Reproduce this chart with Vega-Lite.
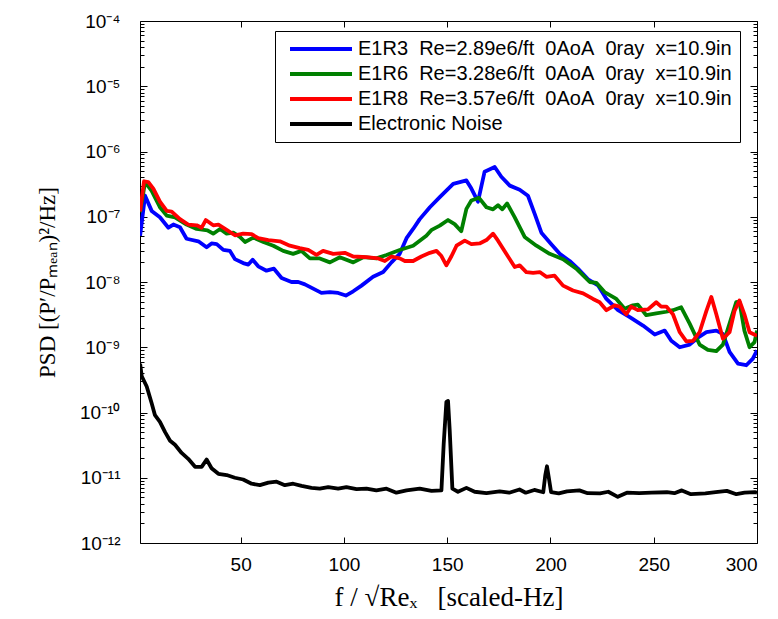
{
  "$schema": "https://vega.github.io/schema/vega-lite/v6.json",
  "width": 617,
  "height": 522,
  "autosize": {"type": "none"},
  "padding": {"left": 140, "top": 21, "right": 21, "bottom": 76},
  "background": "white",
  "config": {
    "view": {"stroke": "black", "strokeWidth": 1, "fill": null},
    "font": "Liberation Sans"
  },
  "datasets": {
    "psd": [
      {"s": "E1R3", "f": 1.3, "v": 5.1e-8}, {"s": "E1R3", "f": 3.7, "v": 2.1e-7}, {"s": "E1R3", "f": 6.9, "v": 1.23e-7}, {"s": "E1R3", "f": 10.9, "v": 9.8e-8}, {"s": "E1R3", "f": 15, "v": 6.8e-8}, {"s": "E1R3", "f": 17.4, "v": 7.6e-8}, {"s": "E1R3", "f": 20.6, "v": 6.9e-8}, {"s": "E1R3", "f": 23.8, "v": 4.6e-8}, {"s": "E1R3", "f": 29.5, "v": 4.2e-8}, {"s": "E1R3", "f": 33.5, "v": 3.4e-8}, {"s": "E1R3", "f": 35.9, "v": 3.9e-8}, {"s": "E1R3", "f": 38.4, "v": 3.8e-8}, {"s": "E1R3", "f": 41.6, "v": 3.1e-8}, {"s": "E1R3", "f": 44.8, "v": 3.0e-8}, {"s": "E1R3", "f": 47.2, "v": 2.24e-8}, {"s": "E1R3", "f": 51.2, "v": 1.95e-8}, {"s": "E1R3", "f": 53.7, "v": 1.85e-8}, {"s": "E1R3", "f": 55.8, "v": 2.2e-8}, {"s": "E1R3", "f": 58.5, "v": 1.74e-8}, {"s": "E1R3", "f": 62.5, "v": 1.49e-8}, {"s": "E1R3", "f": 66.1, "v": 1.6e-8}, {"s": "E1R3", "f": 69.8, "v": 1.15e-8}, {"s": "E1R3", "f": 74.6, "v": 1.0e-8}, {"s": "E1R3", "f": 77.9, "v": 1.0e-8}, {"s": "E1R3", "f": 81.1, "v": 9.2e-9}, {"s": "E1R3", "f": 85.1, "v": 7.9e-9}, {"s": "E1R3", "f": 89.1, "v": 6.8e-9}, {"s": "E1R3", "f": 93.2, "v": 7.0e-9}, {"s": "E1R3", "f": 97.2, "v": 6.8e-9}, {"s": "E1R3", "f": 100.9, "v": 6.2e-9}, {"s": "E1R3", "f": 104.5, "v": 7.2e-9}, {"s": "E1R3", "f": 108.5, "v": 8.8e-9}, {"s": "E1R3", "f": 114.1, "v": 1.2e-8}, {"s": "E1R3", "f": 119, "v": 1.42e-8}, {"s": "E1R3", "f": 123, "v": 2.0e-8}, {"s": "E1R3", "f": 127, "v": 2.7e-8}, {"s": "E1R3", "f": 130.3, "v": 4.7e-8}, {"s": "E1R3", "f": 133.5, "v": 6.5e-8}, {"s": "E1R3", "f": 136.7, "v": 9.2e-8}, {"s": "E1R3", "f": 141.6, "v": 1.4e-7}, {"s": "E1R3", "f": 146.4, "v": 2.0e-7}, {"s": "E1R3", "f": 152.9, "v": 3.2e-7}, {"s": "E1R3", "f": 159.3, "v": 3.6e-7}, {"s": "E1R3", "f": 161.7, "v": 2.7e-7}, {"s": "E1R3", "f": 164.9, "v": 1.7e-7}, {"s": "E1R3", "f": 168.1, "v": 4.9e-7}, {"s": "E1R3", "f": 173, "v": 5.8e-7}, {"s": "E1R3", "f": 176.2, "v": 4.1e-7}, {"s": "E1R3", "f": 180.3, "v": 3.0e-7}, {"s": "E1R3", "f": 185.1, "v": 2.6e-7}, {"s": "E1R3", "f": 189.1, "v": 2.1e-7}, {"s": "E1R3", "f": 192.4, "v": 1.1e-7}, {"s": "E1R3", "f": 195.6, "v": 5.7e-8}, {"s": "E1R3", "f": 200.4, "v": 3.8e-8}, {"s": "E1R3", "f": 204.5, "v": 2.7e-8}, {"s": "E1R3", "f": 209.3, "v": 2.1e-8}, {"s": "E1R3", "f": 213.3, "v": 1.6e-8}, {"s": "E1R3", "f": 218.2, "v": 1.1e-8}, {"s": "E1R3", "f": 223, "v": 8.9e-9}, {"s": "E1R3", "f": 227.1, "v": 5.5e-9}, {"s": "E1R3", "f": 232.7, "v": 3.7e-9}, {"s": "E1R3", "f": 238.4, "v": 2.9e-9}, {"s": "E1R3", "f": 244.8, "v": 2.15e-9}, {"s": "E1R3", "f": 250.5, "v": 1.57e-9}, {"s": "E1R3", "f": 255.3, "v": 1.8e-9}, {"s": "E1R3", "f": 258.5, "v": 1.26e-9}, {"s": "E1R3", "f": 262.6, "v": 1.0e-9}, {"s": "E1R3", "f": 267.4, "v": 1.1e-9}, {"s": "E1R3", "f": 271.4, "v": 1.4e-9}, {"s": "E1R3", "f": 275.5, "v": 1.7e-9}, {"s": "E1R3", "f": 280.3, "v": 1.8e-9}, {"s": "E1R3", "f": 283.5, "v": 1.6e-9}, {"s": "E1R3", "f": 286.7, "v": 8.5e-10}, {"s": "E1R3", "f": 290.8, "v": 5.6e-10}, {"s": "E1R3", "f": 294.8, "v": 5.3e-10}, {"s": "E1R3", "f": 298, "v": 6.7e-10}, {"s": "E1R3", "f": 300, "v": 9e-10},

      {"s": "E1R6", "f": 1.3, "v": 1.17e-7}, {"s": "E1R6", "f": 3.7, "v": 3.4e-7}, {"s": "E1R6", "f": 6.9, "v": 2.5e-7}, {"s": "E1R6", "f": 10.9, "v": 1.4e-7}, {"s": "E1R6", "f": 14.2, "v": 1.04e-7}, {"s": "E1R6", "f": 18.2, "v": 9.8e-8}, {"s": "E1R6", "f": 23.8, "v": 7.6e-8}, {"s": "E1R6", "f": 28.7, "v": 6.5e-8}, {"s": "E1R6", "f": 33.9, "v": 6.2e-8}, {"s": "E1R6", "f": 36.7, "v": 5.5e-8}, {"s": "E1R6", "f": 40, "v": 6.5e-8}, {"s": "E1R6", "f": 43.2, "v": 5.5e-8}, {"s": "E1R6", "f": 46.4, "v": 5.7e-8}, {"s": "E1R6", "f": 49.6, "v": 4.9e-8}, {"s": "E1R6", "f": 52.1, "v": 4.1e-8}, {"s": "E1R6", "f": 56.1, "v": 4.8e-8}, {"s": "E1R6", "f": 61, "v": 4.1e-8}, {"s": "E1R6", "f": 65.8, "v": 3.6e-8}, {"s": "E1R6", "f": 70.6, "v": 3.0e-8}, {"s": "E1R6", "f": 75.4, "v": 2.7e-8}, {"s": "E1R6", "f": 79.4, "v": 3.0e-8}, {"s": "E1R6", "f": 83.5, "v": 2.3e-8}, {"s": "E1R6", "f": 88.3, "v": 2.3e-8}, {"s": "E1R6", "f": 93.2, "v": 2.0e-8}, {"s": "E1R6", "f": 98, "v": 2.4e-8}, {"s": "E1R6", "f": 104.5, "v": 2.0e-8}, {"s": "E1R6", "f": 109.3, "v": 2.4e-8}, {"s": "E1R6", "f": 115.7, "v": 2.3e-8}, {"s": "E1R6", "f": 120.6, "v": 2.6e-8}, {"s": "E1R6", "f": 127, "v": 3.1e-8}, {"s": "E1R6", "f": 133.5, "v": 3.6e-8}, {"s": "E1R6", "f": 139.9, "v": 5.1e-8}, {"s": "E1R6", "f": 142.5, "v": 6.3e-8}, {"s": "E1R6", "f": 146.4, "v": 7.3e-8}, {"s": "E1R6", "f": 150.4, "v": 8.9e-8}, {"s": "E1R6", "f": 153.6, "v": 7.7e-8}, {"s": "E1R6", "f": 156.8, "v": 6.0e-8}, {"s": "E1R6", "f": 159.3, "v": 1.32e-7}, {"s": "E1R6", "f": 161.7, "v": 1.77e-7}, {"s": "E1R6", "f": 165.4, "v": 1.95e-7}, {"s": "E1R6", "f": 169, "v": 1.4e-7}, {"s": "E1R6", "f": 172.2, "v": 1.3e-7}, {"s": "E1R6", "f": 174.6, "v": 1.5e-7}, {"s": "E1R6", "f": 176.7, "v": 1.3e-7}, {"s": "E1R6", "f": 179, "v": 1.6e-7}, {"s": "E1R6", "f": 182.7, "v": 9.8e-8}, {"s": "E1R6", "f": 187.5, "v": 4.9e-8}, {"s": "E1R6", "f": 193.2, "v": 3.6e-8}, {"s": "E1R6", "f": 199.6, "v": 2.7e-8}, {"s": "E1R6", "f": 206.1, "v": 2.24e-8}, {"s": "E1R6", "f": 212.5, "v": 1.6e-8}, {"s": "E1R6", "f": 219, "v": 1.0e-8}, {"s": "E1R6", "f": 222.2, "v": 9.7e-9}, {"s": "E1R6", "f": 226.2, "v": 7.0e-9}, {"s": "E1R6", "f": 231.9, "v": 5.5e-9}, {"s": "E1R6", "f": 235.9, "v": 3.9e-9}, {"s": "E1R6", "f": 239.9, "v": 4.4e-9}, {"s": "E1R6", "f": 242.3, "v": 4.5e-9}, {"s": "E1R6", "f": 246.4, "v": 3.1e-9}, {"s": "E1R6", "f": 251.2, "v": 3.3e-9}, {"s": "E1R6", "f": 256.1, "v": 3.5e-9}, {"s": "E1R6", "f": 259.3, "v": 3.7e-9}, {"s": "E1R6", "f": 263.3, "v": 4.1e-9}, {"s": "E1R6", "f": 267.4, "v": 2.3e-9}, {"s": "E1R6", "f": 272.2, "v": 1.1e-9}, {"s": "E1R6", "f": 276.2, "v": 9.1e-10}, {"s": "E1R6", "f": 280.3, "v": 8.7e-10}, {"s": "E1R6", "f": 283.5, "v": 1.1e-9}, {"s": "E1R6", "f": 286.7, "v": 2.3e-9}, {"s": "E1R6", "f": 289.9, "v": 4.9e-9}, {"s": "E1R6", "f": 291.5, "v": 5.0e-9}, {"s": "E1R6", "f": 293.9, "v": 1.8e-9}, {"s": "E1R6", "f": 296.4, "v": 1.0e-9}, {"s": "E1R6", "f": 298.8, "v": 1.2e-9}, {"s": "E1R6", "f": 300, "v": 1.8e-9},

      {"s": "E1R8", "f": 1.3, "v": 1.2e-7}, {"s": "E1R8", "f": 3.2, "v": 3.5e-7}, {"s": "E1R8", "f": 5.3, "v": 3.4e-7}, {"s": "E1R8", "f": 7.7, "v": 2.7e-7}, {"s": "E1R8", "f": 10.9, "v": 1.7e-7}, {"s": "E1R8", "f": 14.2, "v": 1.23e-7}, {"s": "E1R8", "f": 16.6, "v": 1.2e-7}, {"s": "E1R8", "f": 20.6, "v": 9.2e-8}, {"s": "E1R8", "f": 24.6, "v": 7.6e-8}, {"s": "E1R8", "f": 28.7, "v": 7.4e-8}, {"s": "E1R8", "f": 31.1, "v": 6.8e-8}, {"s": "E1R8", "f": 33.1, "v": 8.9e-8}, {"s": "E1R8", "f": 36.7, "v": 7.4e-8}, {"s": "E1R8", "f": 39.2, "v": 7.6e-8}, {"s": "E1R8", "f": 43.2, "v": 6.3e-8}, {"s": "E1R8", "f": 47.2, "v": 5.2e-8}, {"s": "E1R8", "f": 51.2, "v": 5.5e-8}, {"s": "E1R8", "f": 55.3, "v": 5.4e-8}, {"s": "E1R8", "f": 58.5, "v": 4.7e-8}, {"s": "E1R8", "f": 63.4, "v": 4.4e-8}, {"s": "E1R8", "f": 69, "v": 4.2e-8}, {"s": "E1R8", "f": 73.8, "v": 3.6e-8}, {"s": "E1R8", "f": 78.6, "v": 3.3e-8}, {"s": "E1R8", "f": 82.7, "v": 3.1e-8}, {"s": "E1R8", "f": 86.7, "v": 2.6e-8}, {"s": "E1R8", "f": 89.9, "v": 3.0e-8}, {"s": "E1R8", "f": 94.8, "v": 2.7e-8}, {"s": "E1R8", "f": 100.4, "v": 2.8e-8}, {"s": "E1R8", "f": 104.5, "v": 2.46e-8}, {"s": "E1R8", "f": 110.9, "v": 2.4e-8}, {"s": "E1R8", "f": 116.6, "v": 2.3e-8}, {"s": "E1R8", "f": 119.8, "v": 2.1e-8}, {"s": "E1R8", "f": 123, "v": 2.46e-8}, {"s": "E1R8", "f": 127, "v": 2.3e-8}, {"s": "E1R8", "f": 129.5, "v": 2.1e-8}, {"s": "E1R8", "f": 133.5, "v": 2.1e-8}, {"s": "E1R8", "f": 137.5, "v": 2.46e-8}, {"s": "E1R8", "f": 141.6, "v": 2.8e-8}, {"s": "E1R8", "f": 144.8, "v": 3.0e-8}, {"s": "E1R8", "f": 147.2, "v": 2.5e-8}, {"s": "E1R8", "f": 149.6, "v": 1.8e-8}, {"s": "E1R8", "f": 152.1, "v": 2.5e-8}, {"s": "E1R8", "f": 154.5, "v": 3.6e-8}, {"s": "E1R8", "f": 158.5, "v": 4.3e-8}, {"s": "E1R8", "f": 161.7, "v": 3.8e-8}, {"s": "E1R8", "f": 165.7, "v": 3.9e-8}, {"s": "E1R8", "f": 169, "v": 4.4e-8}, {"s": "E1R8", "f": 172.2, "v": 5.5e-8}, {"s": "E1R8", "f": 174.6, "v": 4.3e-8}, {"s": "E1R8", "f": 178.6, "v": 2.7e-8}, {"s": "E1R8", "f": 182.7, "v": 1.7e-8}, {"s": "E1R8", "f": 185.1, "v": 1.8e-8}, {"s": "E1R8", "f": 188.3, "v": 1.42e-8}, {"s": "E1R8", "f": 191.6, "v": 1.38e-8}, {"s": "E1R8", "f": 194.8, "v": 1.42e-8}, {"s": "E1R8", "f": 198, "v": 1.2e-8}, {"s": "E1R8", "f": 202, "v": 1.25e-8}, {"s": "E1R8", "f": 206.1, "v": 8.8e-9}, {"s": "E1R8", "f": 210.9, "v": 7.4e-9}, {"s": "E1R8", "f": 215.8, "v": 6.7e-9}, {"s": "E1R8", "f": 220.6, "v": 5.5e-9}, {"s": "E1R8", "f": 223.8, "v": 4.9e-9}, {"s": "E1R8", "f": 227.1, "v": 3.7e-9}, {"s": "E1R8", "f": 231.1, "v": 4.4e-9}, {"s": "E1R8", "f": 233.5, "v": 4.2e-9}, {"s": "E1R8", "f": 236.7, "v": 3.2e-9}, {"s": "E1R8", "f": 239.1, "v": 4.2e-9}, {"s": "E1R8", "f": 242.3, "v": 3.7e-9}, {"s": "E1R8", "f": 247.2, "v": 3.8e-9}, {"s": "E1R8", "f": 251.2, "v": 4.9e-9}, {"s": "E1R8", "f": 253.6, "v": 4.2e-9}, {"s": "E1R8", "f": 256.1, "v": 4.2e-9}, {"s": "E1R8", "f": 259.3, "v": 3.2e-9}, {"s": "E1R8", "f": 262.6, "v": 1.7e-9}, {"s": "E1R8", "f": 265.8, "v": 1.23e-9}, {"s": "E1R8", "f": 269, "v": 1.25e-9}, {"s": "E1R8", "f": 272.2, "v": 1.7e-9}, {"s": "E1R8", "f": 275.5, "v": 3.6e-9}, {"s": "E1R8", "f": 277.9, "v": 5.9e-9}, {"s": "E1R8", "f": 280.3, "v": 3.2e-9}, {"s": "E1R8", "f": 283.5, "v": 1.35e-9}, {"s": "E1R8", "f": 286.7, "v": 1.7e-9}, {"s": "E1R8", "f": 289.1, "v": 3.6e-9}, {"s": "E1R8", "f": 291.5, "v": 5.2e-9}, {"s": "E1R8", "f": 293.9, "v": 3.2e-9}, {"s": "E1R8", "f": 296.4, "v": 1.7e-9}, {"s": "E1R8", "f": 300, "v": 1.5e-9},

      {"s": "Noise", "f": 1.3, "v": 5.6e-10}, {"s": "Noise", "f": 2.1, "v": 3.6e-10}, {"s": "Noise", "f": 4.5, "v": 2.5e-10}, {"s": "Noise", "f": 6.9, "v": 1.39e-10}, {"s": "Noise", "f": 8.5, "v": 9.1e-11}, {"s": "Noise", "f": 10.9, "v": 7.2e-11}, {"s": "Noise", "f": 13.4, "v": 5.0e-11}, {"s": "Noise", "f": 15.8, "v": 3.7e-11}, {"s": "Noise", "f": 18.2, "v": 3.2e-11}, {"s": "Noise", "f": 21.4, "v": 2.4e-11}, {"s": "Noise", "f": 24.6, "v": 1.95e-11}, {"s": "Noise", "f": 27.9, "v": 1.47e-11}, {"s": "Noise", "f": 31.1, "v": 1.47e-11}, {"s": "Noise", "f": 33.5, "v": 1.9e-11}, {"s": "Noise", "f": 35.9, "v": 1.4e-11}, {"s": "Noise", "f": 39.2, "v": 1.15e-11}, {"s": "Noise", "f": 43.2, "v": 1.1e-11}, {"s": "Noise", "f": 47.2, "v": 1.0e-11}, {"s": "Noise", "f": 51.2, "v": 9.4e-12}, {"s": "Noise", "f": 55.3, "v": 8.1e-12}, {"s": "Noise", "f": 59.3, "v": 7.7e-12}, {"s": "Noise", "f": 63.4, "v": 8.4e-12}, {"s": "Noise", "f": 67.4, "v": 8.7e-12}, {"s": "Noise", "f": 71.4, "v": 7.7e-12}, {"s": "Noise", "f": 75.4, "v": 8.1e-12}, {"s": "Noise", "f": 79.5, "v": 7.5e-12}, {"s": "Noise", "f": 84.3, "v": 7.0e-12}, {"s": "Noise", "f": 88.3, "v": 6.8e-12}, {"s": "Noise", "f": 92.4, "v": 7.2e-12}, {"s": "Noise", "f": 97.2, "v": 6.8e-12}, {"s": "Noise", "f": 101.2, "v": 7.2e-12}, {"s": "Noise", "f": 106.1, "v": 6.7e-12}, {"s": "Noise", "f": 110.9, "v": 6.8e-12}, {"s": "Noise", "f": 115.7, "v": 6.4e-12}, {"s": "Noise", "f": 120.6, "v": 6.8e-12}, {"s": "Noise", "f": 125.4, "v": 5.9e-12}, {"s": "Noise", "f": 130.3, "v": 6.4e-12}, {"s": "Noise", "f": 136.7, "v": 6.8e-12}, {"s": "Noise", "f": 142.4, "v": 6.3e-12}, {"s": "Noise", "f": 147.2, "v": 6.4e-12}, {"s": "Noise", "f": 148.3, "v": 3.3e-11}, {"s": "Noise", "f": 149.6, "v": 1.45e-10}, {"s": "Noise", "f": 150.4, "v": 1.5e-10}, {"s": "Noise", "f": 151.2, "v": 5.4e-11}, {"s": "Noise", "f": 152.5, "v": 6.8e-12}, {"s": "Noise", "f": 155.2, "v": 6.1e-12}, {"s": "Noise", "f": 159.3, "v": 7.0e-12}, {"s": "Noise", "f": 163.3, "v": 6.1e-12}, {"s": "Noise", "f": 169, "v": 5.8e-12}, {"s": "Noise", "f": 175.4, "v": 6.2e-12}, {"s": "Noise", "f": 180, "v": 5.9e-12}, {"s": "Noise", "f": 185, "v": 6.6e-12}, {"s": "Noise", "f": 188, "v": 5.9e-12}, {"s": "Noise", "f": 192.2, "v": 6.5e-12}, {"s": "Noise", "f": 196.5, "v": 6.0e-12}, {"s": "Noise", "f": 197.5, "v": 1.1e-11}, {"s": "Noise", "f": 198.3, "v": 1.5e-11}, {"s": "Noise", "f": 199.2, "v": 1.0e-11}, {"s": "Noise", "f": 200.3, "v": 6.0e-12}, {"s": "Noise", "f": 204, "v": 5.75e-12}, {"s": "Noise", "f": 208, "v": 6.2e-12}, {"s": "Noise", "f": 214, "v": 6.4e-12}, {"s": "Noise", "f": 218, "v": 5.8e-12}, {"s": "Noise", "f": 224, "v": 5.75e-12}, {"s": "Noise", "f": 228, "v": 6.1e-12}, {"s": "Noise", "f": 232.6, "v": 5.1e-12}, {"s": "Noise", "f": 237, "v": 5.9e-12}, {"s": "Noise", "f": 243, "v": 5.8e-12}, {"s": "Noise", "f": 249, "v": 5.9e-12}, {"s": "Noise", "f": 256.4, "v": 6.0e-12}, {"s": "Noise", "f": 260, "v": 5.8e-12}, {"s": "Noise", "f": 263.6, "v": 6.4e-12}, {"s": "Noise", "f": 268, "v": 5.6e-12}, {"s": "Noise", "f": 275, "v": 5.75e-12}, {"s": "Noise", "f": 280, "v": 6.0e-12}, {"s": "Noise", "f": 285.4, "v": 6.3e-12}, {"s": "Noise", "f": 290, "v": 5.6e-12}, {"s": "Noise", "f": 294, "v": 5.9e-12}, {"s": "Noise", "f": 299, "v": 6.0e-12}, {"s": "Noise", "f": 300, "v": 5.9e-12}
    ]
  },
  "data": {"name": "psd"},
  "layer": [
    {
      "mark": {"type": "line", "strokeWidth": 3.8, "strokeJoin": "round", "clip": true},
      "encoding": {
        "x": {
          "field": "f", "type": "quantitative",
          "scale": {"domain": [1.25, 300], "nice": false, "zero": false},
          "axis": {
            "orient": "bottom", "values": [50, 100, 150, 200, 250, 300], "offset": -6,
            "domainOpacity": 0, "gridOpacity": 0, "tickSize": 6, "tickColor": "black",
            "labelPadding": 12, "labelFontSize": 19, "labelColor": "black", "labelFont": "Liberation Sans",
            "title": "f / √Reₓ\u00a0\u00a0\u00a0[scaled-Hz]", "titleFont": "Liberation Serif", "titleFontSize": 27,
            "titleFontWeight": "normal", "titleColor": "black", "titleY": 68, "titleBaseline": "alphabetic"
          }
        },
        "y": {
          "field": "v", "type": "quantitative",
          "scale": {"type": "log", "domain": [1e-12, 1e-4], "nice": false},
          "axis": {
            "orient": "left", "offset": -7,
            "values": [1e-12, 1e-11, 1e-10, 1e-9, 1e-8, 1e-7, 1e-6, 1e-5, 1e-4],
            "domainOpacity": 0, "gridOpacity": 0, "tickColor": "black", "tickSize": 7,
            "labelExpr": "['10⁻¹²','10⁻¹¹','10⁻¹⁰','10⁻⁹','10⁻⁸','10⁻⁷','10⁻⁶','10⁻⁵','10⁻⁴'][round(log(datum.value)/LN10)+12]",
            "labelPadding": 20, "labelFontSize": 19, "labelColor": "black", "labelFont": "Liberation Sans", "labelOverlap": false,
            "title": "PSD [(P′/Pₘₑₐₙ)²/Hz]", "titleFont": "Liberation Serif", "titleFontSize": 23,
            "titleFontWeight": "normal", "titleColor": "black",
            "titleX": -100, "titleY": 261, "titleAngle": -90, "titleAlign": "center", "titleBaseline": "middle"
          }
        },
        "color": {
          "field": "s", "type": "nominal",
          "scale": {"domain": ["E1R3", "E1R6", "E1R8", "Noise"], "range": ["#0000ff", "#008000", "#ff0000", "#000000"]},
          "legend": {
            "orient": "none", "legendX": 135, "legendY": 10, "title": null,
            "symbolType": "M-3.875,0H3.875", "symbolSize": 256, "symbolStrokeWidth": 4, "symbolOffset": 28,
            "labelFont": "Liberation Sans", "labelFontSize": 20, "labelColor": "black", "labelLimit": 0,
            "labelOffset": 27, "padding": 8, "rowPadding": 5,
            "strokeColor": "black", "fillColor": "white",
            "labelExpr": "datum.label == 'E1R3' ? 'E1R3\u00a0\u00a0Re=2.89e6/ft\u00a0\u00a00AoA\u00a0\u00a00ray\u00a0\u00a0x=10.9in' : datum.label == 'E1R6' ? 'E1R6\u00a0\u00a0Re=3.28e6/ft\u00a0\u00a00AoA\u00a0\u00a00ray\u00a0\u00a0x=10.9in' : datum.label == 'E1R8' ? 'E1R8\u00a0\u00a0Re=3.57e6/ft\u00a0\u00a00AoA\u00a0\u00a00ray\u00a0\u00a0x=10.9in' : 'Electronic Noise'"
          }
        }
      }
    },
    {
      "mark": {"type": "line", "strokeOpacity": 0, "clip": true},
      "encoding": {
        "x": {
          "field": "f", "type": "quantitative",
          "axis": {"orient": "top", "offset": -6, "values": [50, 100, 150, 200, 250, 300], "domainOpacity": 0, "gridOpacity": 0, "labels": false, "title": null, "tickSize": 6, "tickColor": "black"}
        },
        "y": {
          "field": "v", "type": "quantitative",
          "axis": {"orient": "right", "offset": -7, "values": [1e-12, 1e-11, 1e-10, 1e-9, 1e-8, 1e-7, 1e-6, 1e-5, 1e-4], "domainOpacity": 0, "gridOpacity": 0, "labels": false, "title": null, "tickSize": 7, "tickColor": "black"}
        },
        "detail": {"field": "s", "type": "nominal"}
      }
    },
    {
      "mark": {"type": "line", "strokeOpacity": 0, "clip": true},
      "encoding": {
        "x": {"field": "f", "type": "quantitative", "axis": null},
        "y": {
          "field": "v", "type": "quantitative",
          "axis": {
            "orient": "left", "offset": -4,
            "values": [2e-12, 3e-12, 4e-12, 5e-12, 6e-12, 7e-12, 8e-12, 9e-12, 2e-11, 3e-11, 4e-11, 5e-11, 6e-11, 7e-11, 8e-11, 9e-11, 2e-10, 3e-10, 4e-10, 5e-10, 6e-10, 7e-10, 8e-10, 9e-10, 2e-9, 3e-9, 4e-9, 5e-9, 6e-9, 7e-9, 8e-9, 9e-9, 2e-8, 3e-8, 4e-8, 5e-8, 6e-8, 7e-8, 8e-8, 9e-8, 2e-7, 3e-7, 4e-7, 5e-7, 6e-7, 7e-7, 8e-7, 9e-7, 2e-6, 3e-6, 4e-6, 5e-6, 6e-6, 7e-6, 8e-6, 9e-6, 2e-5, 3e-5, 4e-5, 5e-5, 6e-5, 7e-5, 8e-5, 9e-5],
            "domainOpacity": 0, "gridOpacity": 0, "labels": false, "title": null, "tickSize": 4, "tickColor": "black"
          }
        },
        "detail": {"field": "s", "type": "nominal"}
      }
    },
    {
      "mark": {"type": "line", "strokeOpacity": 0, "clip": true},
      "encoding": {
        "x": {"field": "f", "type": "quantitative", "axis": null},
        "y": {
          "field": "v", "type": "quantitative",
          "axis": {
            "orient": "right", "offset": -4,
            "values": [2e-12, 3e-12, 4e-12, 5e-12, 6e-12, 7e-12, 8e-12, 9e-12, 2e-11, 3e-11, 4e-11, 5e-11, 6e-11, 7e-11, 8e-11, 9e-11, 2e-10, 3e-10, 4e-10, 5e-10, 6e-10, 7e-10, 8e-10, 9e-10, 2e-9, 3e-9, 4e-9, 5e-9, 6e-9, 7e-9, 8e-9, 9e-9, 2e-8, 3e-8, 4e-8, 5e-8, 6e-8, 7e-8, 8e-8, 9e-8, 2e-7, 3e-7, 4e-7, 5e-7, 6e-7, 7e-7, 8e-7, 9e-7, 2e-6, 3e-6, 4e-6, 5e-6, 6e-6, 7e-6, 8e-6, 9e-6, 2e-5, 3e-5, 4e-5, 5e-5, 6e-5, 7e-5, 8e-5, 9e-5],
            "domainOpacity": 0, "gridOpacity": 0, "labels": false, "title": null, "tickSize": 4, "tickColor": "black"
          }
        },
        "detail": {"field": "s", "type": "nominal"}
      }
    }
  ],
  "resolve": {"axis": {"x": "independent", "y": "independent"}}
}
